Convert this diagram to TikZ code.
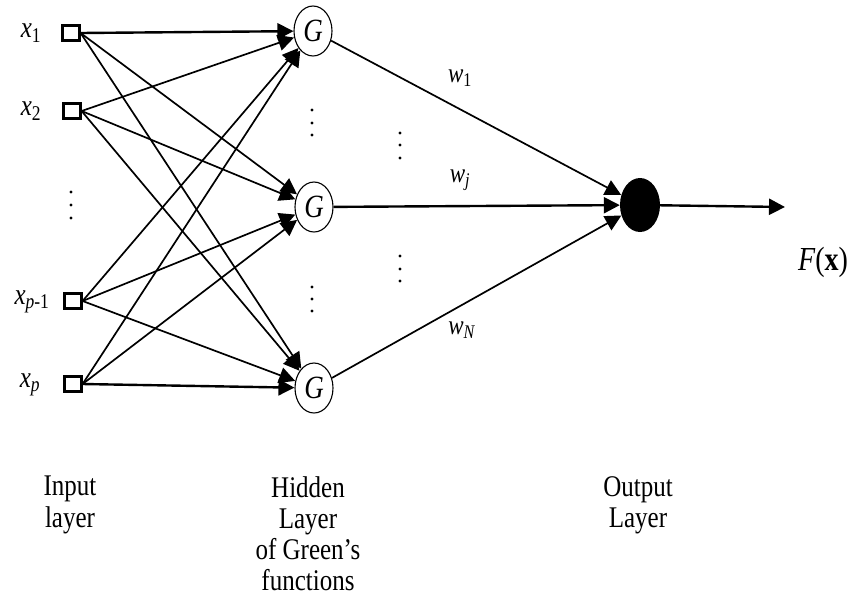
\documentclass[tikz,border=0pt]{standalone}
\usepackage{fontspec}
\setmainfont{Liberation Serif}
\usetikzlibrary{arrows.meta,shapes.geometric}
\tikzset{
 inbox/.style={draw, line width=2.2pt, minimum width=17pt, minimum height=15pt, inner sep=0pt},
 gnode/.style={draw, ellipse, line width=1.1pt, minimum width=38pt, minimum height=50pt, inner sep=0pt},
 gtext/.style={font=\fontsize{27}{27}\selectfont\itshape, inner sep=0pt, yscale=1.2, transform shape},
 outnode/.style={fill=black, ellipse, minimum width=40pt, minimum height=54pt, inner sep=0pt},
 conn/.style={line width=1.7pt, -{Triangle[length=16pt,width=16pt]}},
 thickconn/.style={conn, line width=2.4pt},
 lbl/.style={font=\fontsize{25}{25}\selectfont, inner sep=0pt, yscale=1.2, transform shape},
 caption/.style={font=\fontsize{25}{26}\selectfont, align=center, anchor=north, inner sep=0pt, yscale=1.2, transform shape},
 vdot/.style={circle, fill=black, inner sep=0pt, minimum size=3.2pt}
}
\begin{document}
\begin{tikzpicture}[x=1pt,y=-1pt]
\useasboundingbox (0,0) rectangle (856,611);
% inputs
\node[inbox] (i1) at (71,33) {};
\node[inbox] (i2) at (72,111) {};
\node[inbox] (i3) at (73,301) {};
\node[inbox] (i4) at (73,384) {};
\node[lbl] (l1) at (31,33) {\textit{x}\textsubscript{1}};
\node[lbl] (l2) at (31,111) {\textit{x}\textsubscript{2}};
\node[lbl] (l3) at (32,302) {\textit{x}\textsubscript{\textit{p}-1}};
\node[lbl] (l4) at (30,385) {\textit{x}\textsubscript{\textit{p}}};
\node[vdot] (d1) at (71,192) {};
\node[vdot] (d2) at (71,205) {};
\node[vdot] (d3) at (71,218) {};
% hidden
\node[gnode] (G1) at (313,31) {};
\node[gnode] (G2) at (314,207) {};
\node[gnode] (G3) at (314,388) {};
\node[gtext] (t1) at (G1) {G};
\node[gtext] (t2) at (G2) {G};
\node[gtext] (t3) at (G3) {G};
\node[vdot] (h1) at (312,110) {};
\node[vdot] (h2) at (312,123) {};
\node[vdot] (h3) at (312,135) {};
\node[vdot] (h4) at (312,287) {};
\node[vdot] (h5) at (312,299) {};
\node[vdot] (h6) at (312,311) {};
\node[vdot] (m1) at (400,133) {};
\node[vdot] (m2) at (400,145) {};
\node[vdot] (m3) at (400,158) {};
\node[vdot] (m4) at (400,256) {};
\node[vdot] (m5) at (400,269) {};
\node[vdot] (m6) at (400,281) {};
% output
\node[outnode] (out) at (640,205) {};
\coordinate (end) at (785,207);
\node[lbl, font=\fontsize{28}{28}\selectfont] (F) at (823,262) {\textit{F}(\textbf{x})};
% input -> hidden
\draw[thickconn] (i1.east) -- (G1);
\draw[conn] (i1.east) -- (G2);
\draw[conn] (i1.east) -- (G3);
\draw[conn] (i2.east) -- (G1);
\draw[conn] (i2.east) -- (G2);
\draw[conn] (i2.east) -- (G3);
\draw[conn] (i3.east) -- (G1);
\draw[conn] (i3.east) -- (G2);
\draw[conn] (i3.east) -- (G3);
\draw[conn] (i4.east) -- (G1);
\draw[conn] (i4.east) -- (G2);
\draw[thickconn] (i4.east) -- (G3);
% hidden -> output
\draw[conn] (G1) -- (out);
\draw[thickconn] (G2) -- (out);
\draw[conn] (G3) -- (out);
\draw[thickconn] (out) -- (end);
\node[lbl, font=\fontsize{23}{23}\selectfont] (w1) at (460,78) {\textit{w}\textsubscript{1}};
\node[lbl, font=\fontsize{23}{23}\selectfont] (wj) at (460,180) {\textit{w}\textsubscript{\textit{j}}};
\node[lbl, font=\fontsize{23}{23}\selectfont] (wN) at (462,330) {\textit{w}\textsubscript{\textit{N}}};
% captions
\node[caption] (c1) at (70,476) {Input\\layer};
\node[caption] (c2) at (308,476) {Hidden\\Layer\\of Green’s\\functions};
\node[caption] (c3) at (638,476) {Output\\Layer};
\end{tikzpicture}
\end{document}
